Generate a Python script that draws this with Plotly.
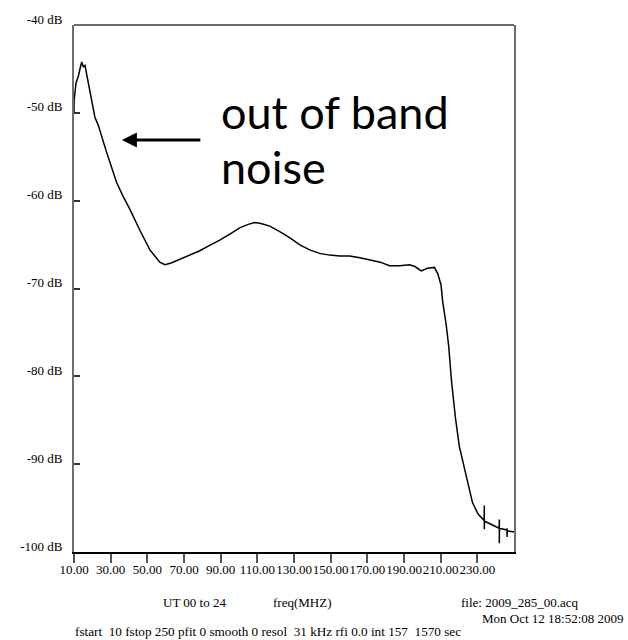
import plotly.graph_objects as go

# ---- data ----
freq_mhz = [10, 10.05, 11.1, 12.4, 13.6, 14.2, 15.1, 16.0, 16.9, 17.8, 19.6, 21.4, 23.2, 25.1,
            27.8, 30.5, 33.2, 36.5, 40.5, 46.0, 51.4, 56.8, 59.6, 63.0, 67.7, 73.0, 78.6, 84.0,
            89.5, 95.0, 100.4, 105.0, 108.6, 112.0, 116.8, 122.0, 127.6, 133.0, 138.5, 144.0,
            149.4, 155.0, 160.3, 166.0, 171.2, 177.0, 182.1, 187.6, 193.0, 196.0, 199.4, 202.8,
            206.6, 208.4, 210.2, 211.1, 213.0, 214.4, 215.9, 218.1, 220.2, 223.0, 225.7, 227.4,
            230.5, 233.7, 233.8, 233.8, 233.9, 238.0, 241.9, 242.0, 242.0, 242.1, 246.1, 246.2,
            246.2, 246.3, 249.2, 250.0]
power_db = [-50.0, -48.6, -46.6, -45.8, -44.7, -44.2, -44.75, -44.6, -45.6, -46.6, -48.8, -50.5,
            -51.4, -52.8, -54.5, -56.2, -57.9, -59.4, -61.0, -63.4, -65.6, -67.0, -67.3, -67.1,
            -66.7, -66.2, -65.7, -65.1, -64.5, -63.8, -63.1, -62.7, -62.5, -62.6, -62.9, -63.5,
            -64.2, -65.0, -65.6, -66.0, -66.2, -66.3, -66.3, -66.5, -66.7, -67.0, -67.4, -67.4,
            -67.3, -67.5, -68.0, -67.7, -67.6, -68.3, -69.6, -71.5, -74.1, -76.6, -80.5, -84.8,
            -88.0, -90.5, -93.0, -94.4, -95.7, -96.4, -94.7, -97.4, -96.5, -96.9, -97.3, -96.3,
            -99.0, -97.3, -97.5, -97.3, -98.3, -97.6, -97.7, -97.7]

x_tick_vals = [10, 30, 50, 70, 90, 110, 130, 150, 170, 190, 210, 230]
x_tick_text = ["10.00", "30.00", "50.00", "70.00", "90.00", "110.00", "130.00", "150.00",
               "170.00", "190.00", "210.00", "230.00"]
y_tick_vals = [-40, -50, -60, -70, -80, -90, -100]
y_tick_text = ["-40 dB", "-50 dB", "-60 dB", "-70 dB", "-80 dB", "-90 dB", "-100 dB"]

NB = "\u00a0"
caption_ut = "UT 00 to 24"
caption_freq = "freq(MHZ)"
caption_file = "file: 2009_285_00.acq"
caption_date = "Mon Oct 12 18:52:08 2009"
caption_params = ("fstart" + NB + NB + "10 fstop 250 pfit 0 smooth 0 resol" + NB + NB +
                  "31 kHz rfi 0.0 int 157" + NB + NB + "1570 sec")
note_line1 = "out of band"
note_line2 = "noise"

# ---- layout geometry (pixels) ----
W, H = 628, 640
L, R, T, B = 74, 114, 22, 88
PW, PH = W - L - R, H - T - B


def px(xp):
    return (xp - L) / PW


def py(yp):
    return (H - B - yp) / PH


serif = "Liberation Serif"

fig = go.Figure()
fig.add_trace(go.Scatter(x=freq_mhz, y=power_db, mode="lines",
                         line=dict(color="black", width=1.5), hoverinfo="skip",
                         showlegend=False))

fig.update_layout(
    width=W, height=H,
    margin=dict(l=L, r=R, t=T, b=B, pad=0),
    paper_bgcolor="white", plot_bgcolor="white",
    font=dict(family=serif, size=13, color="black"),
    xaxis=dict(range=[10, 250], tickvals=x_tick_vals, ticktext=x_tick_text,
               ticks="outside", ticklen=9, tickwidth=1.5, tickcolor="#555",
               showline=True, linecolor="black", linewidth=2, mirror=False,
               showgrid=False, zeroline=False, tickangle=0, ticklabelstandoff=-5,
               tickfont=dict(family=serif, size=13, color="black")),
    yaxis=dict(range=[-100, -40], tickvals=y_tick_vals, ticktext=y_tick_text,
               ticks="inside", ticklen=6, tickwidth=1.5, tickcolor="#333",
               showline=True, linecolor="#6e6e6e", linewidth=2, mirror=True,
               showgrid=False, zeroline=False, ticklabelshift=-6,
               ticklabelstandoff=7,
               tickfont=dict(family=serif, size=13, color="black")),
)

# top frame line (gray)
fig.add_shape(type="line", xref="paper", yref="paper", x0=0, x1=1, y0=1, y1=1,
              line=dict(color="#6e6e6e", width=2))

ann = []


def text(s, xp, yp, anchor="left", size=13, fam=serif):
    ann.append(dict(text=s, xref="paper", yref="paper", x=px(xp), y=py(yp),
                    xanchor=anchor, yanchor="middle", showarrow=False,
                    font=dict(family=fam, size=size, color="black")))


text(caption_ut, 161, 603)
text(caption_freq, 271, 603)
text(caption_file, 459, 603)
text(caption_date, 480, 619)
text(caption_params, 73, 632, size=13.2)
text(note_line1, 219, 109, size=45, fam="Lato")
text(note_line2, 219, 165, size=45, fam="Lato")

# arrow pointing at the curve
ann.append(dict(text="", x=36.1, y=-53.1, xref="x", yref="y", ax=80, ay=0,
                showarrow=True, arrowhead=2, arrowsize=1, arrowwidth=3,
                arrowcolor="black"))

fig.update_layout(annotations=ann)
fig.write_html("out.html")
